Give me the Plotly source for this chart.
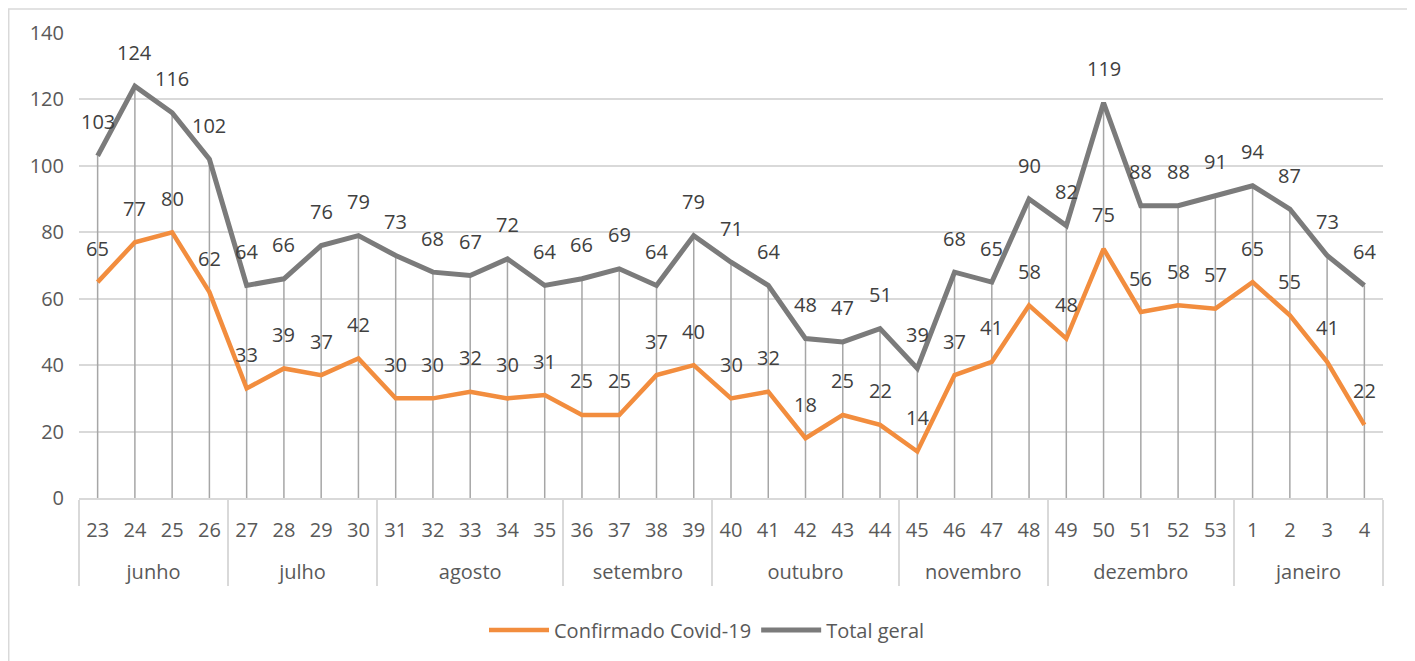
import plotly.graph_objects as go

months = ["junho"] * 4 + ["julho"] * 4 + ["agosto"] * 5 + ["setembro"] * 4 + \
         ["outubro"] * 5 + ["novembro"] * 4 + ["dezembro"] * 5 + ["janeiro"] * 4
weeks = ["23", "24", "25", "26", "27", "28", "29", "30", "31", "32", "33", "34", "35",
         "36", "37", "38", "39", "40", "41", "42", "43", "44", "45", "46", "47", "48",
         "49", "50", "51", "52", "53", "1", "2", "3", "4"]
confirmado = [65, 77, 80, 62, 33, 39, 37, 42, 30, 30, 32, 30, 31, 25, 25, 37, 40,
              30, 32, 18, 25, 22, 14, 37, 41, 58, 48, 75, 56, 58, 57, 65, 55, 41, 22]
total = [103, 124, 116, 102, 64, 66, 76, 79, 73, 68, 67, 72, 64, 66, 69, 64, 79,
         71, 64, 48, 47, 51, 39, 68, 65, 90, 82, 119, 88, 88, 91, 94, 87, 73, 64]

ORANGE = "#F28D3E"
GRAY = "#7B7B7B"
TXT = "#595959"
FONT = "Open Sans"
FS = 20

# month level gets an empty first line so it sits lower, as in the original
x = [["<br>" + m for m in months], weeks]
n = len(weeks)

fig = go.Figure()
# drop lines (from total line down to zero)
fig.add_trace(go.Scatter(
    x=x, y=total, mode="markers", marker=dict(size=0.1, color="rgba(0,0,0,0)"),
    error_y=dict(type="data", symmetric=False, array=[0] * n, arrayminus=total,
                 color="#A6A6A6", thickness=1.5, width=0),
    showlegend=False, hoverinfo="skip"))
fig.add_trace(go.Scatter(x=x, y=confirmado, mode="lines", name="Confirmado Covid-19",
                         line=dict(color=ORANGE, width=4.5)))
fig.add_trace(go.Scatter(x=x, y=total, mode="lines", name="Total geral",
                         line=dict(color=GRAY, width=5)))

annotations = []
for series in (confirmado, total):
    for i, v in enumerate(series):
        annotations.append(dict(x=i, y=v, xref="x", yref="y", text=str(v), showarrow=False,
                                yshift=34, font=dict(family=FONT, size=FS, color="#404040")))

fig.update_layout(
    width=1415, height=661,
    margin=dict(l=71, r=40, t=25, b=171, autoexpand=False),
    paper_bgcolor="white", plot_bgcolor="white",
    font=dict(family=FONT, size=FS, color=TXT),
    annotations=annotations,
    legend=dict(orientation="h", x=0.4816, xanchor="center", y=-0.284, yanchor="middle",
                itemwidth=60, font=dict(family=FONT, size=FS, color=TXT)),
    shapes=[dict(type="rect", xref="paper", yref="paper", x0=-0.0539, x1=1.0222,
                 y0=-0.40, y1=1.0516, line=dict(color="#D9D9D9", width=1.5))],
)
fig.update_xaxes(type="multicategory", range=[-0.5, n - 0.5], autorange=False,
                 automargin=False, showgrid=False, showline=True, linecolor="#D9D9D9",
                 linewidth=1.5, showdividers=True, dividercolor="#D9D9D9", dividerwidth=1.5,
                 ticks="", ticklabelstandoff=13,
                 tickfont=dict(family=FONT, size=FS, color=TXT))
fig.update_yaxes(range=[0, 140], dtick=20, showgrid=True, gridcolor="#D9D9D9", gridwidth=1.5,
                 automargin=False, zeroline=False, showline=False, ticks="",
                 ticklabelstandoff=14, tickfont=dict(family=FONT, size=FS, color=TXT))

fig.write_html("out.html")
